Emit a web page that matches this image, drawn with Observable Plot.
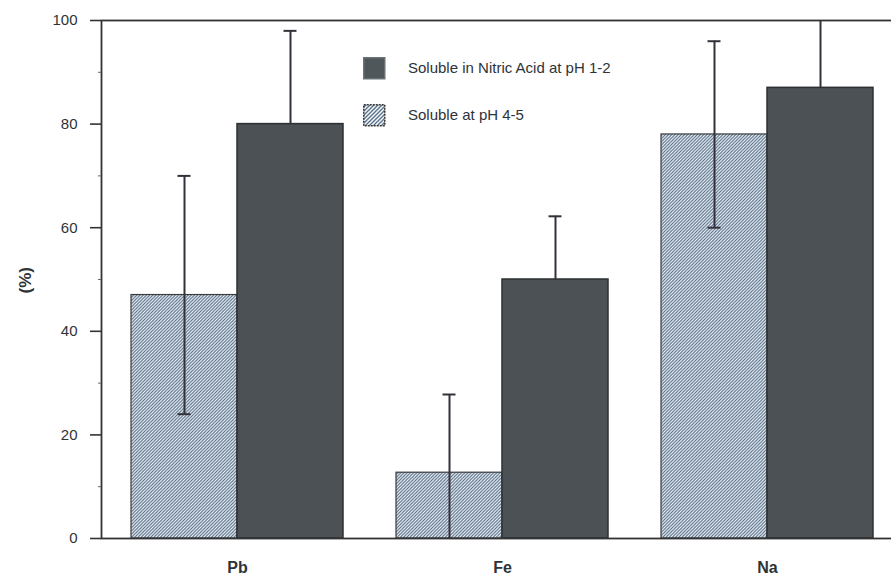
<!DOCTYPE html>
<html>
<head>
<meta charset="utf-8">
<script src="https://cdn.jsdelivr.net/npm/d3@7"></script>
<script src="https://cdn.jsdelivr.net/npm/@observablehq/plot@0.6"></script>
<style>
  body { margin: 0; background: white; }
  #wrap { position: relative; width: 891px; height: 577px; overflow: hidden; background: white; }
  #legend { position: absolute; left: 363px; top: 57px; font-family: "Liberation Sans", Arial, sans-serif; font-size: 15px; color: #2e3338; }
  .li { position: absolute; left: 0; white-space: nowrap; height: 22px; }
  .li svg { position: absolute; left: 0; top: 0; }
  .li span { position: absolute; left: 45px; top: 2px; }
</style>
</head>
<body>
<div id="wrap">
  <div id="legend"></div>
</div>
<script>
// ---- data ----
const elements = ["Pb", "Fe", "Na"];
const seriesNames = ["Soluble in Nitric Acid at pH 1-2", "Soluble at pH 4-5"];
const ph45 = [47, 12.7, 78];
const ph45Low = [24, -3, 60];
const ph45High = [70, 27.8, 96];
const nitric = [80, 50, 87];
const nitricHigh = [98, 62.2, 105];
const yTicks = [0, 20, 40, 60, 80, 100];
const yMinor = [10, 30, 50, 70, 90];
const yLabel = "(%)";

const rows = elements.map((e, i) => ({
  element: e, ph45: ph45[i], ph45Low: ph45Low[i], ph45High: ph45High[i],
  nitric: nitric[i], nitricHigh: nitricHigh[i]
}));

const errColor = "#35313b";
const dark = "#4b5154";

const plot = Plot.plot({
  width: 903, height: 577,
  marginLeft: 101, marginRight: 0, marginTop: 20, marginBottom: 39,
  style: {fontFamily: "'Liberation Sans', Arial, sans-serif", fontSize: "15px", color: "#2e3338", background: "white", maxWidth: "none", overflow: "visible"},
  x: {domain: elements, paddingInner: 0.2, paddingOuter: 0.113, axis: null},
  y: {domain: [0, 100], axis: null},
  marks: [
    Plot.barY(rows, {x: "element", y: "ph45", fill: "url(#hatch)", stroke: "#3a3a3a", strokeWidth: 1.2, insetRight: 106}),
    Plot.barY(rows, {x: "element", y: "nitric", fill: dark, stroke: "#2c3032", strokeWidth: 1.5, insetLeft: 106}),
    Plot.ruleX(rows, {x: "element", y1: "ph45Low", y2: "ph45High", dx: -53, stroke: errColor, strokeWidth: 2, clip: true}),
    Plot.tickY(rows, {x: "element", y: "ph45Low", insetLeft: 46.5, insetRight: 152.5, stroke: errColor, strokeWidth: 2, clip: true}),
    Plot.tickY(rows, {x: "element", y: "ph45High", insetLeft: 46.5, insetRight: 152.5, stroke: errColor, strokeWidth: 2, clip: true}),
    Plot.ruleX(rows, {x: "element", y1: "nitric", y2: "nitricHigh", dx: 53, stroke: errColor, strokeWidth: 2, clip: true}),
    Plot.tickY(rows, {x: "element", y: "nitricHigh", insetLeft: 152.5, insetRight: 46.5, stroke: errColor, strokeWidth: 2, clip: true}),
    Plot.frame({stroke: "#333", strokeWidth: 1.8}),
    Plot.axisY({ticks: yTicks, tickSize: 11, tickPadding: 13, label: null, stroke: "#333", strokeWidth: 1.6, fontSize: 15}),
    Plot.axisY({ticks: yMinor, tickSize: 3, tickFormat: () => "", label: null, stroke: "#666"}),
    Plot.axisX({tickSize: 0, tickPadding: 23, label: null, fontWeight: "bold", fontSize: 16}),
    Plot.text([yLabel], {frameAnchor: "left", dx: -76, dy: 14, rotate: -90, fontWeight: "bold", fontSize: 17})
  ]
});

// hatch pattern definition
const ns = "http://www.w3.org/2000/svg";
const defs = document.createElementNS(ns, "defs");
defs.innerHTML = `<pattern id="hatch" patternUnits="userSpaceOnUse" width="3.2" height="3.2">
  <rect width="3.2" height="3.2" fill="#f6f8fa"/>
  <path d="M-0.8,0.8 L0.8,-0.8 M0,3.2 L3.2,0 M2.4,4 L4,2.4" stroke="#4f6a86" stroke-width="1.1"/>
</pattern>`;
plot.insertBefore(defs, plot.firstChild);

const wrap = document.getElementById("wrap");
wrap.insertBefore(plot, wrap.firstChild);

// legend
const legend = document.getElementById("legend");
const sw = [
  `<svg width="23" height="23"><rect x="0.75" y="0.75" width="21" height="21" fill="#50575a" stroke="#6b7275" stroke-width="1.5"/></svg>`,
  `<svg width="23" height="23"><defs><pattern id="hatch2" patternUnits="userSpaceOnUse" width="4" height="4"><rect width="4" height="4" fill="#f4f6f8"/><path d="M-1,1 L1,-1 M0,4 L4,0 M3,5 L5,3" stroke="#56708a" stroke-width="1.3"/></pattern></defs><rect x="0.75" y="0.75" width="21" height="21" fill="url(#hatch2)" stroke="#3a3a3a" stroke-width="1.5" stroke-dasharray="2,1"/></svg>`
];
seriesNames.forEach((name, i) => {
  const d = document.createElement("div");
  d.className = "li";
  d.style.top = (i * 47) + "px";
  d.innerHTML = sw[i] + `<span>${name}</span>`;
  legend.appendChild(d);
});
</script>
</body>
</html>
